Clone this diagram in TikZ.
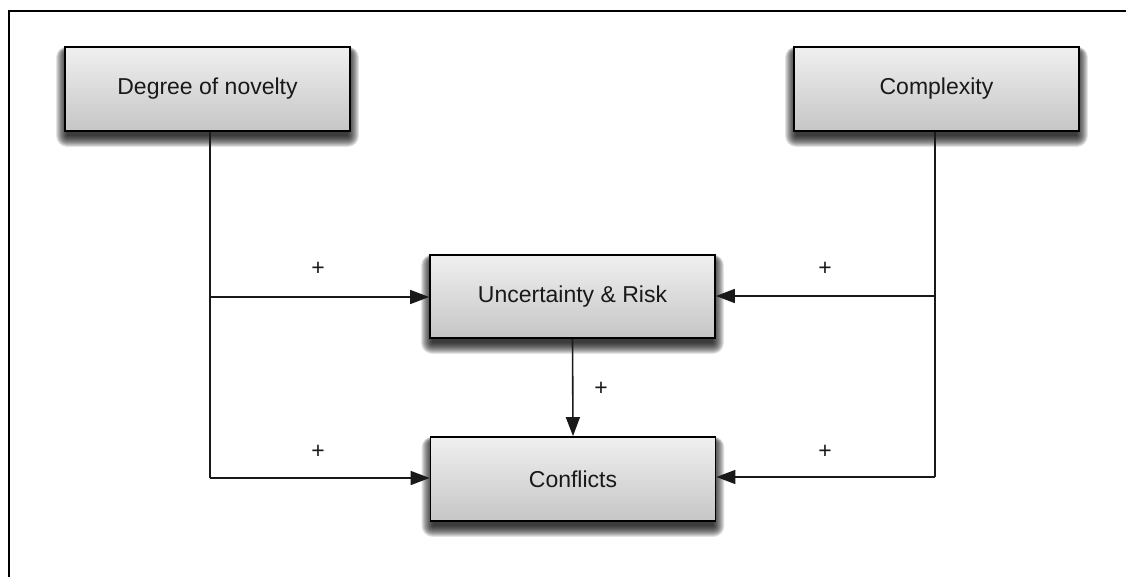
\documentclass[tikz,border=0pt]{standalone}
\usepackage{fontspec}
\setmainfont{Liberation Sans}
\usetikzlibrary{arrows.meta,calc,backgrounds}

\tikzset{
  factor/.style={
    draw=black, line width=1.8pt,
    minimum width=285pt, minimum height=84pt,
    top color=gray!12, bottom color=gray!45,
    font=\fontsize{23}{28}\selectfont, text=black!90,
    inner sep=0pt
  },
  link/.style={line width=1.6pt, draw=black!90},
  arrowlink/.style={link, -{Triangle[length=19pt,width=14pt]}},
  sign/.style={font=\fontsize{23}{28}\selectfont, text=black!90, inner sep=0pt},
  shadowlayer/.style={fill=black, fill opacity=0.11, draw=none}
}

% soft drop shadow under a named box, built from stacked translucent layers
\newcommand\softshadow[1]{%
  \begin{scope}[on background layer]
    \foreach \k in {0,...,11}{
      \fill[shadowlayer, rounded corners=\k pt]
        ($(#1.north west)+(3-\k,6-\k*0.5)$) rectangle ($(#1.south east)+(-3+\k,4+\k)$);
    }
  \end{scope}}

\begin{document}
\begin{tikzpicture}[x=1pt,y=-1pt]
  \useasboundingbox (0,0) rectangle (1126,577);
  \begin{scope}[on background layer]
    \fill[white] (0,0) rectangle (1126,577);
  \end{scope}

  % open frame: only the left and top edges fall inside the page
  \draw[line width=2pt] (9,590) -- (9,11) -- (1140,11);

  % factor boxes
  \node[factor] (deg)  at (207.5,89)  {Degree of novelty};
  \node[factor] (cpx)  at (936.5,89)  {Complexity};
  \node[factor, minimum height=83pt] (unc) at (572.5,296.5) {Uncertainty \& Risk};
  \node[factor] (conf) at (573,479)   {Conflicts};

  \softshadow{deg}
  \softshadow{cpx}
  \softshadow{unc}
  \softshadow{conf}

  % branch points on the two trunks
  \coordinate (dU) at (210,297);
  \coordinate (dC) at (210,478);
  \coordinate (cU) at (935,296);
  \coordinate (cC) at (935,477);

  % trunk from degree of novelty
  \draw[link] (deg.south -| dU) -- (dU) -- (dC);
  \draw[arrowlink] (dU) -- (dU -| unc.west);
  \draw[arrowlink] (dC) -- (dC -| conf.west);

  % trunk from complexity
  \draw[link] (cpx.south -| cU) -- (cU) -- (cC);
  \draw[arrowlink] (cU) -- (cU -| unc.east);
  \draw[arrowlink] (cC) -- (cC -| conf.east);

  % uncertainty feeds conflicts
  \draw[arrowlink] (unc.south) -- (conf.north);

  % polarity signs
  \node[sign] (s1) at (318,269) {+};
  \node[sign] (s2) at (318,452) {+};
  \node[sign] (s3) at (825,269) {+};
  \node[sign] (s4) at (825,452) {+};
  \node[sign] (s5) at (601,389) {+};
\end{tikzpicture}
\end{document}
